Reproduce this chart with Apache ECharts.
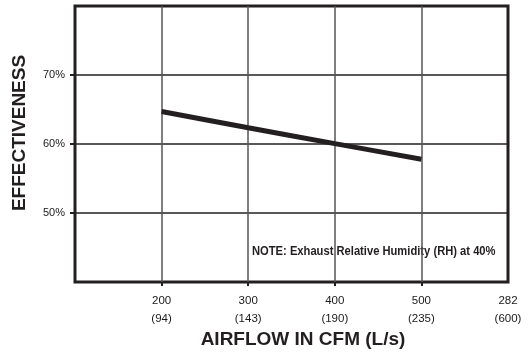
<!DOCTYPE html>
<html>
<head>
<meta charset="utf-8">
<script src="https://cdn.jsdelivr.net/npm/echarts@6/dist/echarts.min.js"></script>
<style>
html,body{margin:0;padding:0;background:#fff;}
#chart{width:528px;height:352px;}
</style>
</head>
<body>
<div id="chart"></div>
<script>
// Data
var airflowCFM = [200, 300, 400, 500];
var effectiveness = [64.7, 62.35, 60.05, 57.8];
var xTickValues = [200, 300, 400, 500, 600];
var cfmLabels = ['200', '300', '400', '500', '282'];
var lpsLabels = ['(94)', '(143)', '(190)', '(235)', '(600)'];
var yTickValues = [50, 60, 70];
var yTickLabels = ['50%', '60%', '70%'];
var yTitle = 'EFFECTIVENESS';
var xTitle = 'AIRFLOW IN CFM (L/s)';
var noteText = 'NOTE: Exhaust Relative Humidity (RH) at 40%';

var dark = '#231f20';
var chart = echarts.init(document.getElementById('chart'), null, {renderer: 'canvas'});
var option = {
  animation: false,
  backgroundColor: '#fff',
  grid: {left: 75, right: 20, top: 6, bottom: 70, show: true, borderWidth: 3, borderColor: dark, backgroundColor: 'transparent'},
  xAxis: {
    type: 'value', min: 100, max: 600, interval: 100,
    axisLine: {show: false},
    axisTick: {show: true, length: 4, customValues: [200, 300, 400, 500], lineStyle: {color: dark, width: 2}},
    splitLine: {show: true, lineStyle: {color: '#555', width: 1.5}},
    axisLabel: {
      customValues: xTickValues,
      margin: 10,
      fontFamily: 'Liberation Sans, Arial, sans-serif', fontSize: 11.5, color: '#1a1a1a', lineHeight: 18,
      formatter: function (v) {
        var i = xTickValues.indexOf(v);
        return i < 0 ? '' : cfmLabels[i] + '\n' + lpsLabels[i];
      }
    }
  },
  yAxis: {
    type: 'value', min: 40, max: 80, interval: 10,
    axisLine: {show: false},
    axisTick: {show: true, length: 5, customValues: yTickValues, lineStyle: {color: dark, width: 2}},
    splitLine: {show: true, lineStyle: {color: dark, width: 1.5}},
    axisLabel: {
      customValues: yTickValues,
      margin: 10,
      fontFamily: 'Liberation Sans, Arial, sans-serif', fontSize: 11, color: '#1a1a1a',
      formatter: function (v) {
        var i = yTickValues.indexOf(v);
        return i < 0 ? '' : yTickLabels[i];
      }
    }
  },
  graphic: [
    {type: 'text', x: 20, y: 133, rotation: Math.PI / 2,
     style: {text: yTitle, font: 'bold 19px "Liberation Sans", Arial, sans-serif', fill: dark, align: 'center', verticalAlign: 'middle'}},
    {type: 'text', x: 303, y: 340,
     style: {text: xTitle, font: 'bold 19px "Liberation Sans", Arial, sans-serif', fill: dark, align: 'center', verticalAlign: 'middle'}},
    {type: 'text', x: 252, y: 251, scaleX: 0.86,
     style: {text: noteText, font: 'bold 13px "Liberation Sans", Arial, sans-serif', fill: dark, align: 'left', verticalAlign: 'middle'}}
  ],
  series: [{
    type: 'line',
    data: airflowCFM.map(function (x, i) { return [x, effectiveness[i]]; }),
    smooth: 0.3,
    symbol: 'none',
    lineStyle: {color: dark, width: 5, cap: 'butt'}
  }]
};
chart.setOption(option);
</script>
</body>
</html>
